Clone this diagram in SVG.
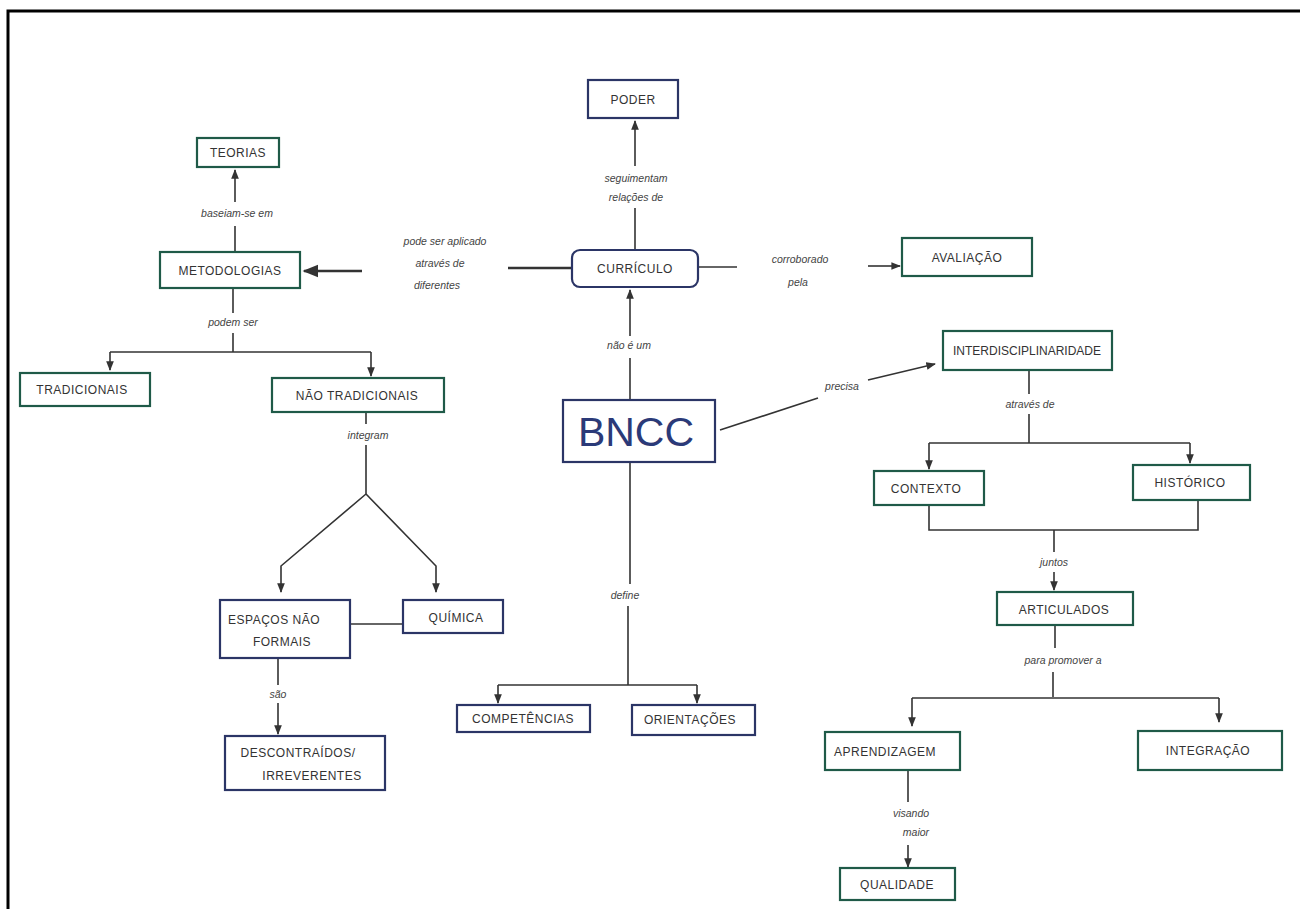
<svg xmlns="http://www.w3.org/2000/svg" width="1300" height="909" viewBox="0 0 1300 909">
  <style>
    .frame { fill: none; stroke: #000; stroke-width: 3; }
    .box { fill: #fff; stroke-width: 2.2; }
    .blue { stroke: #2b3566; }
    .green { stroke: #1f5a48; }
    .lbl { font-family: "Liberation Sans", Arial, sans-serif; font-size: 12px; fill: #333; text-anchor: middle; letter-spacing: 0.5px; }
    .link-lbl { font-family: "Liberation Sans", Arial, sans-serif; font-size: 10.5px; fill: #444; text-anchor: middle; font-style: italic; }
    .big { font-family: "Liberation Sans", Arial, sans-serif; font-size: 41px; fill: #2b3a78; text-anchor: middle; }
    .line { fill: none; stroke: #333; stroke-width: 1.6; }
    .thick { stroke-width: 2.6; }
  </style>
  <defs>
    <marker id="arrow" viewBox="0 0 10 10" refX="9" refY="5" markerWidth="6" markerHeight="6" orient="auto">
      <path d="M0,1 L10,5 L0,9 z" fill="#333"/>
    </marker>
  </defs>

  <rect x="0" y="0" width="1300" height="909" fill="#fff"/>
  <rect class="frame" x="8" y="11" width="1300" height="910"/>

  <!-- connectors -->
  <g id="connectors">
    <!-- CURRICULO -> PODER -->
    <path class="line" d="M635,250 V208"/>
    <path class="line" d="M635,166 V121" marker-end="url(#arrow)"/>
    <!-- METODOLOGIAS -> TEORIAS -->
    <path class="line" d="M235,252 V226"/>
    <path class="line" d="M235,202 V170" marker-end="url(#arrow)"/>
    <!-- CURRICULO -> METODOLOGIAS -->
    <path class="line thick" d="M572,268 H508"/>
    <path class="line thick" d="M362,271 H304" marker-end="url(#arrow)"/>
    <!-- CURRICULO -> AVALIACAO -->
    <path class="line" d="M698,267 H737"/>
    <path class="line" d="M868,266 H900" marker-end="url(#arrow)"/>
    <!-- METODOLOGIAS -> TRADICIONAIS / NAO TRADICIONAIS -->
    <path class="line" d="M233,288 V313"/>
    <path class="line" d="M233,333 V352"/>
    <path class="line" d="M110,352 H371"/>
    <path class="line" d="M110,352 V370" marker-end="url(#arrow)"/>
    <path class="line" d="M371,352 V376" marker-end="url(#arrow)"/>
    <!-- NAO TRADICIONAIS -> ESPACOS / QUIMICA -->
    <path class="line" d="M366,412 V424"/>
    <path class="line" d="M366,445 V494 L281,566 V592" marker-end="url(#arrow)"/>
    <path class="line" d="M366,494 L436,566 V592" marker-end="url(#arrow)"/>
    <!-- ESPACOS - QUIMICA -->
    <path class="line" d="M350,624 H403"/>
    <!-- ESPACOS -> DESCONTRAIDOS -->
    <path class="line" d="M278,658 V685"/>
    <path class="line" d="M278,703 V734" marker-end="url(#arrow)"/>
    <!-- BNCC -> CURRICULO -->
    <path class="line" d="M630,400 V358"/>
    <path class="line" d="M630,336 V290" marker-end="url(#arrow)"/>
    <!-- BNCC -> INTERDISCIPLINARIDADE -->
    <path class="line" d="M720,430 L818,398"/>
    <path class="line" d="M868,380 L935,364" marker-end="url(#arrow)"/>
    <!-- BNCC -> COMPETENCIAS / ORIENTACOES -->
    <path class="line" d="M630,462 V584"/>
    <path class="line" d="M628,606 V685"/>
    <path class="line" d="M498,685 H697"/>
    <path class="line" d="M498,685 V703" marker-end="url(#arrow)"/>
    <path class="line" d="M697,685 V703" marker-end="url(#arrow)"/>
    <!-- INTERDISCIPLINARIDADE -> CONTEXTO / HISTORICO -->
    <path class="line" d="M1029,370 V394"/>
    <path class="line" d="M1029,414 V443"/>
    <path class="line" d="M929,443 H1190"/>
    <path class="line" d="M929,443 V469" marker-end="url(#arrow)"/>
    <path class="line" d="M1190,443 V463" marker-end="url(#arrow)"/>
    <!-- CONTEXTO + HISTORICO -> ARTICULADOS -->
    <path class="line" d="M929,505 V530 H1198 V500"/>
    <path class="line" d="M1054,530 V552"/>
    <path class="line" d="M1054,572 V590" marker-end="url(#arrow)"/>
    <!-- ARTICULADOS -> APRENDIZAGEM / INTEGRACAO -->
    <path class="line" d="M1055,625 V648"/>
    <path class="line" d="M1053,672 V697"/>
    <path class="line" d="M912,698 H1219"/>
    <path class="line" d="M912,698 V726" marker-end="url(#arrow)"/>
    <path class="line" d="M1219,698 V722" marker-end="url(#arrow)"/>
    <!-- APRENDIZAGEM -> QUALIDADE -->
    <path class="line" d="M908,770 V802"/>
    <path class="line" d="M908,845 V867" marker-end="url(#arrow)"/>

    <!-- link labels -->
    <text class="link-lbl" x="636" y="182">seguimentam</text>
    <text class="link-lbl" x="636" y="201">relações de</text>
    <text class="link-lbl" x="237" y="217">baseiam-se em</text>
    <text class="link-lbl" x="445" y="245">pode ser aplicado</text>
    <text class="link-lbl" x="440" y="267">através de</text>
    <text class="link-lbl" x="437" y="289">diferentes</text>
    <text class="link-lbl" x="800" y="263">corroborado</text>
    <text class="link-lbl" x="798" y="286">pela</text>
    <text class="link-lbl" x="233" y="326">podem ser</text>
    <text class="link-lbl" x="368" y="439">integram</text>
    <text class="link-lbl" x="278" y="698">são</text>
    <text class="link-lbl" x="629" y="349">não é um</text>
    <text class="link-lbl" x="842" y="390">precisa</text>
    <text class="link-lbl" x="625" y="599">define</text>
    <text class="link-lbl" x="1030" y="408">através de</text>
    <text class="link-lbl" x="1054" y="566">juntos</text>
    <text class="link-lbl" x="1063" y="664">para promover a</text>
    <text class="link-lbl" x="911" y="817">visando</text>
    <text class="link-lbl" x="916" y="836">maior</text>
  </g>

  <!-- nodes -->
  <g id="poder"><rect class="box blue" x="588" y="80" width="90" height="38"/><text class="lbl" x="633" y="104">PODER</text></g>
  <g id="teorias"><rect class="box green" x="197" y="138" width="82" height="29"/><text class="lbl" x="238" y="157">TEORIAS</text></g>
  <g id="metodologias"><rect class="box green" x="160" y="252" width="140" height="36"/><text class="lbl" x="230" y="275">METODOLOGIAS</text></g>
  <g id="curriculo"><rect class="box blue" x="572" y="250" width="126" height="37" rx="8"/><text class="lbl" x="635" y="273">CURRÍCULO</text></g>
  <g id="avaliacao"><rect class="box green" x="902" y="238" width="130" height="38"/><text class="lbl" x="967" y="262">AVALIAÇÃO</text></g>
  <g id="interdisciplinaridade"><rect class="box green" x="943" y="331" width="169" height="39"/><text class="lbl" x="1027" y="355" style="letter-spacing:0">INTERDISCIPLINARIDADE</text></g>
  <g id="tradicionais"><rect class="box green" x="20" y="373" width="130" height="33"/><text class="lbl" x="82" y="394">TRADICIONAIS</text></g>
  <g id="nao-tradicionais"><rect class="box green" x="272" y="378" width="172" height="34"/><text class="lbl" x="357" y="400">NÃO TRADICIONAIS</text></g>
  <g id="bncc"><rect class="box blue" x="563" y="400" width="152" height="62"/><text class="big" x="636" y="446">BNCC</text></g>
  <g id="contexto"><rect class="box green" x="874" y="471" width="110" height="34"/><text class="lbl" x="926" y="493">CONTEXTO</text></g>
  <g id="historico"><rect class="box green" x="1133" y="465" width="117" height="35"/><text class="lbl" x="1190" y="487">HISTÓRICO</text></g>
  <g id="articulados"><rect class="box green" x="997" y="592" width="136" height="33"/><text class="lbl" x="1064" y="614">ARTICULADOS</text></g>
  <g id="espacos-nao-formais"><rect class="box blue" x="220" y="600" width="130" height="58"/><text class="lbl" x="274" y="624">ESPAÇOS NÃO</text><text class="lbl" x="282" y="646">FORMAIS</text></g>
  <g id="quimica"><rect class="box blue" x="403" y="600" width="100" height="33"/><text class="lbl" x="456" y="622">QUÍMICA</text></g>
  <g id="descontraidos"><rect class="box blue" x="225" y="736" width="160" height="54"/><text class="lbl" x="298" y="757">DESCONTRAÍDOS/</text><text class="lbl" x="312" y="780">IRREVERENTES</text></g>
  <g id="competencias"><rect class="box blue" x="457" y="705" width="133" height="27"/><text class="lbl" x="523" y="723">COMPETÊNCIAS</text></g>
  <g id="orientacoes"><rect class="box blue" x="632" y="705" width="123" height="30"/><text class="lbl" x="690" y="724">ORIENTAÇÕES</text></g>
  <g id="aprendizagem"><rect class="box green" x="825" y="732" width="135" height="38"/><text class="lbl" x="885" y="756">APRENDIZAGEM</text></g>
  <g id="integracao"><rect class="box green" x="1138" y="731" width="144" height="39"/><text class="lbl" x="1208" y="755">INTEGRAÇÃO</text></g>
  <g id="qualidade"><rect class="box green" x="840" y="868" width="115" height="32"/><text class="lbl" x="897" y="889">QUALIDADE</text></g>
</svg>
